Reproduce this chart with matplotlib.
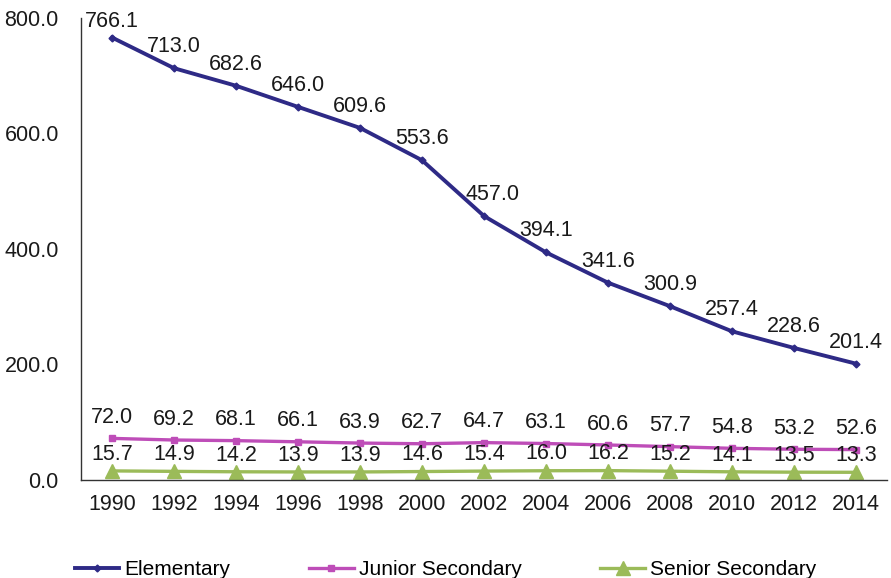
import matplotlib
matplotlib.use("Agg")
import matplotlib.pyplot as plt

years = ["1990", "1992", "1994", "1996", "1998", "2000", "2002",
         "2004", "2006", "2008", "2010", "2012", "2014"]
elementary = [766.1, 713.0, 682.6, 646.0, 609.6, 553.6, 457.0,
              394.1, 341.6, 300.9, 257.4, 228.6, 201.4]
junior_secondary = [72.0, 69.2, 68.1, 66.1, 63.9, 62.7, 64.7,
                    63.1, 60.6, 57.7, 54.8, 53.2, 52.6]
senior_secondary = [15.7, 14.9, 14.2, 13.9, 13.9, 14.6, 15.4,
                    16.0, 16.2, 15.2, 14.1, 13.5, 13.3]
y_ticks = [0, 200, 400, 600, 800]

plt.rcParams["font.family"] = ["Liberation Sans", "DejaVu Sans"]
FS = 15.5

fig = plt.figure(figsize=(8.91, 5.78), dpi=100)
ax = fig.add_axes([0.091, 0.1696, 0.9045, 0.7993])

x = list(range(len(years)))
ax.set_xlim(-0.5, len(years) - 0.5)
ax.set_ylim(0, 800)

series = [
    ("Elementary", elementary, "#2E2A86", "D", 3.5, 2.8, 8),
    ("Junior Secondary", junior_secondary, "#BE4DB8", "s", 5, 2.4, 7.5),
    ("Senior Secondary", senior_secondary, "#9BBB59", "^", 10, 2.4, 4.5),
]
# sideways nudge (points) for labels that would sit on a steep segment
label_nudge = {("Elementary", 6): 6}

top_px = ax.get_window_extent().y1
for name, vals, color, marker, ms, lw, off in series:
    ax.plot(x, vals, color=color, lw=lw, marker=marker, ms=ms,
            markeredgecolor=color, markerfacecolor=color, label=name)
    for xi, v in zip(x, vals):
        # keep labels inside the plot area near the top edge
        py = ax.transData.transform((xi, v))[1]
        room_pt = (top_px - py) * 72 / fig.dpi
        o = min(off, max(room_pt - 10, 0))
        dx = label_nudge.get((name, xi), 0)
        ax.annotate(f"{v:.1f}", (xi, v), xytext=(dx, o),
                    textcoords="offset points", ha="center", va="bottom",
                    fontsize=FS, color="#1a1a1a", annotation_clip=False)

ax.set_xticks(x)
ax.set_xticklabels(years)
ax.set_yticks(y_ticks)
ax.set_yticklabels([f"{t:.1f}" for t in y_ticks])
ax.tick_params(axis="both", length=0, labelsize=FS, colors="#1a1a1a")
ax.tick_params(axis="y", pad=16)
ax.tick_params(axis="x", pad=10)
for s in ["top", "right"]:
    ax.spines[s].set_visible(False)
for s in ["left", "bottom"]:
    ax.spines[s].set_color("#333333")
    ax.spines[s].set_linewidth(1.0)

fig.legend(loc="lower center", bbox_to_anchor=(0.5, -0.035), ncol=3,
           frameon=False, fontsize=15, handlelength=2.15, handletextpad=0.25,
           columnspacing=3.76)

fig.savefig("out.png", dpi=100)
